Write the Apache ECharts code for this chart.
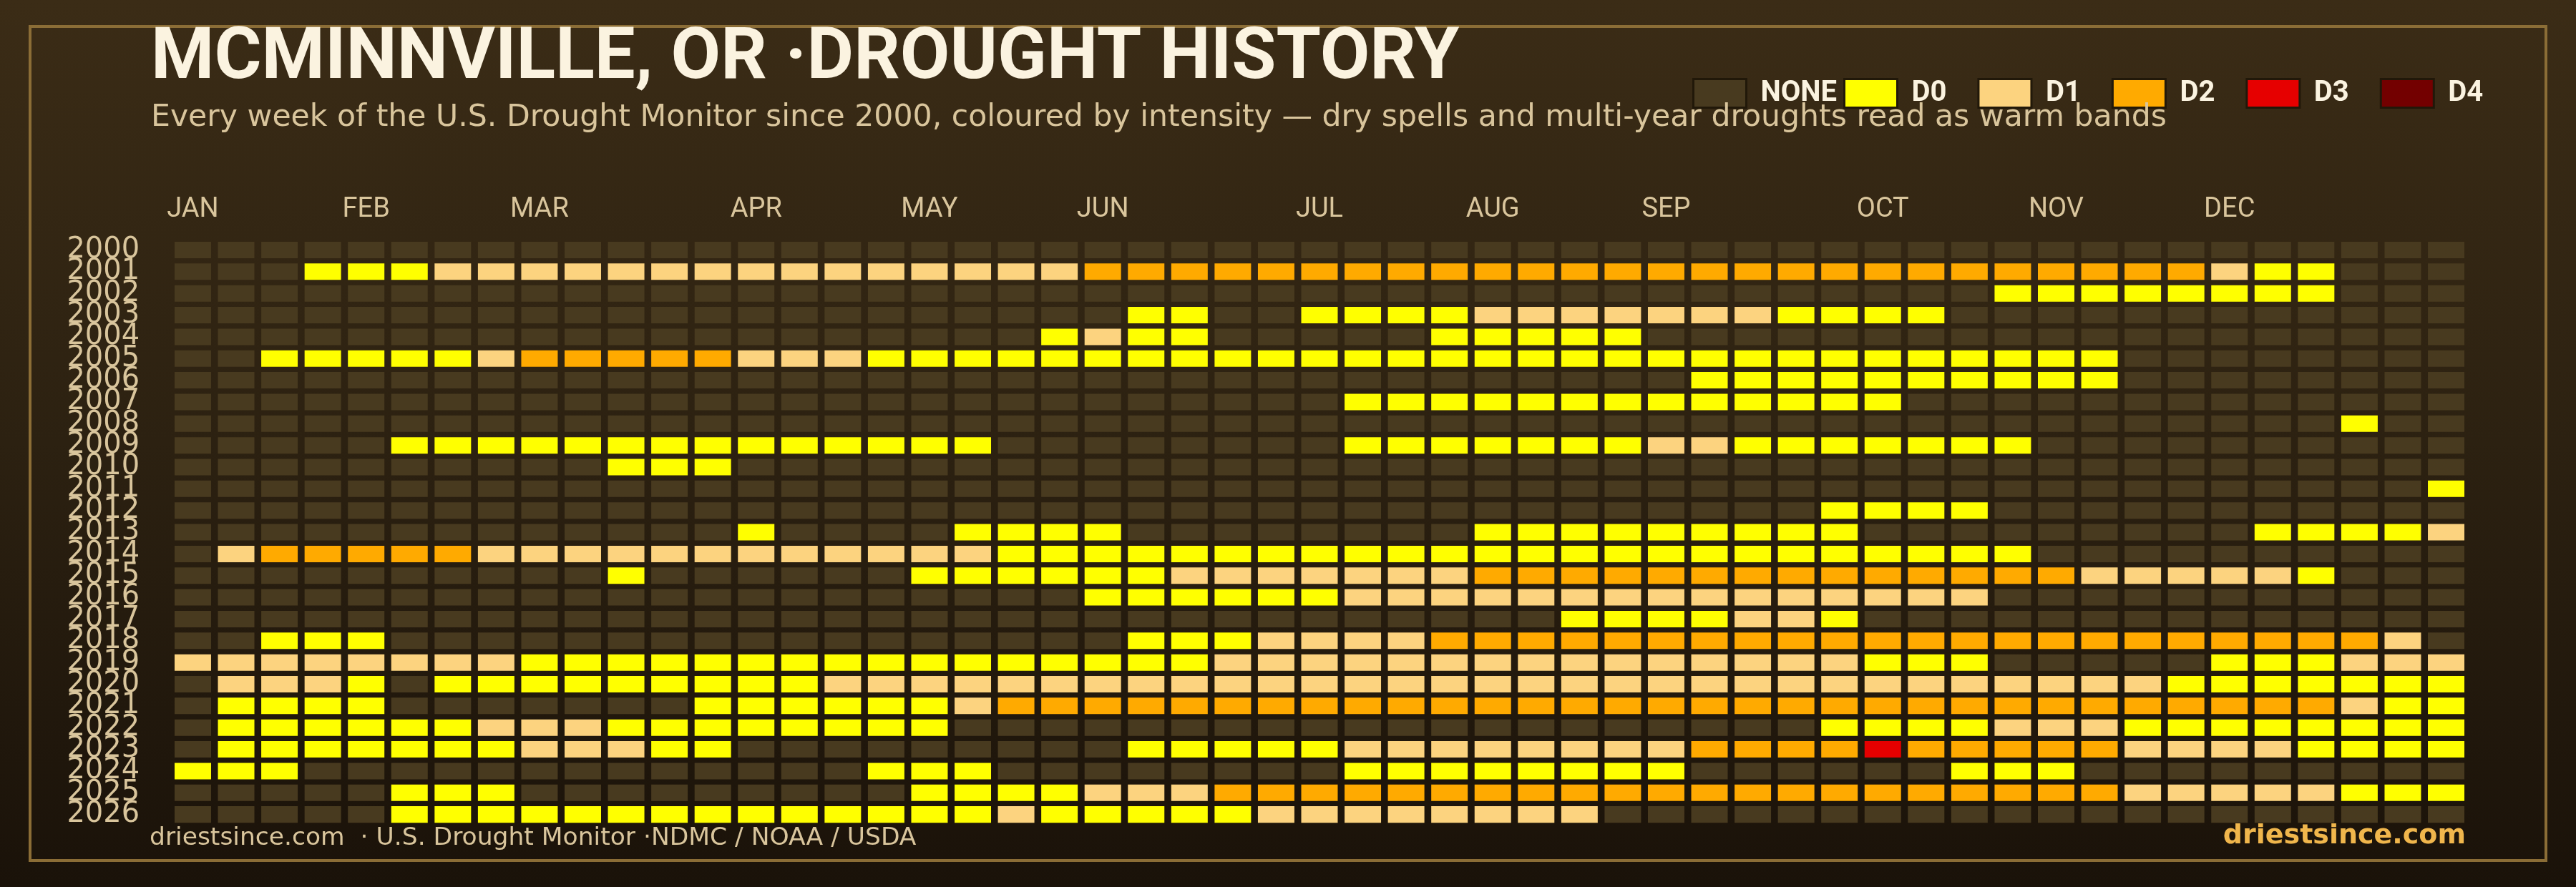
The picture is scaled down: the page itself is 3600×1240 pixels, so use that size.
<!DOCTYPE html>
<html><head><meta charset="utf-8">
<script src="https://cdn.jsdelivr.net/npm/echarts@6/dist/echarts.min.js"></script>
<style>html,body{margin:0;padding:0;background:#1b1309;} #c{width:3600px;height:1240px;}</style>
</head><body><div id="c"></div>
<script>
const years = [2000,2001,2002,2003,2004,2005,2006,2007,2008,2009,2010,2011,2012,2013,2014,2015,2016,2017,2018,2019,2020,2021,2022,2023,2024,2025,2026];
const weekNumbers = [1,2,3,4,5,6,7,8,9,10,11,12,13,14,15,16,17,18,19,20,21,22,23,24,25,26,27,28,29,30,31,32,33,34,35,36,37,38,39,40,41,42,43,44,45,46,47,48,49,50,51,52,53];
const monthLabels = ['JAN','FEB','MAR','APR','MAY','JUN','JUL','AUG','SEP','OCT','NOV','DEC'];
const monthStartWeek = [0,4,8,13,17,21,26,30,34,39,43,47];
const levelNames = ['NONE','D0','D1','D2','D3','D4'];
const levelColors = ['#483a1f','#ffff00','#fcd37f','#ffaa00','#e60000','#730000'];
// one string per year, one digit per week: 0 none, 1 D0, 2 D1, 3 D2, 4 D3, 5 D4
const weekLevels = [
 '0000000000 0000000000 0000000000 0000000000 0000000000 000',
 '0001112222 2222222222 2333333333 3333333333 3333333211 000',
 '0000000000 0000000000 0000000000 0000000000 0011111111 000',
 '0000000000 0000000000 0011001111 2222222111 1000000000 000',
 '0000000000 0000000000 1211000001 1111000000 0000000000 000',
 '0011111233 3332221111 1111111111 1111111111 1111100000 000',
 '0000000000 0000000000 0000000000 0000011111 1111100000 000',
 '0000000000 0000000000 0000000111 1111111111 0000000000 000',
 '0000000000 0000000000 0000000000 0000000000 0000000000 100',
 '0000011111 1111111110 0000000111 1111221111 1110000000 000',
 '0000000000 1110000000 0000000000 0000000000 0000000000 000',
 '0000000000 0000000000 0000000000 0000000000 0000000000 001',
 '0000000000 0000000000 0000000000 0000000011 1100000000 000',
 '0000000000 0001000011 1100000000 1111111110 0000000011 112',
 '0233333222 2222222221 1111111111 1111111111 1110000000 000',
 '0000000000 1000000111 1112222222 3333333333 3333222221 000',
 '0000000000 0000000000 0111111222 2222222222 2200000000 000',
 '0000000000 0000000000 0000000000 0011112210 0000000000 000',
 '0011100000 0000000000 0011122223 3333333333 3333333333 320',
 '2222222211 1111111111 1111222222 2222222221 1100000111 222',
 '0222101111 1111122222 2222222222 2222222222 2222221111 111',
 '0111100000 0011111123 3333333333 3333333333 3333333333 211',
 '0111111222 1111111100 0000000000 0000000011 1122211111 111',
 '0111111122 2110000000 0011111222 2222233334 3333322221 111',
 '1110000000 0000001110 0000000111 1111100000 0111000000 000',
 '0000011100 0000000111 1222333333 3333333333 3333322222 111',
 '0000011111 1111111112 1111122222 2220000000 0000000000 000'
];

const byLevel = levelNames.map(() => []);
weekLevels.forEach((row, yi) => {
  row.replace(/ /g, '').split('').forEach((ch, wi) => {
    byLevel[+ch].push([wi, yi]);
  });
});

function renderCell(params, api) {
  const c = api.coord([api.value(0), api.value(1)]);
  const s = api.size([1, 1]);
  const w = s[0] * 0.842, h = s[1] * 0.758;
  return { type: 'rect', shape: { x: c[0] - w / 2, y: c[1] - h / 2, width: w, height: h },
           style: { fill: api.visual('color') } };
}

const chart = echarts.init(document.getElementById('c'), null, { renderer: 'canvas' });
const legendText = { color: '#fbf3e0', fontSize: 40, fontWeight: 'bold', fontFamily: 'Roboto', padding: [0, 0, 0, 15] };
chart.setOption({
  animation: false,
  graphic: [
    { type: 'rect', z: -10, silent: true, shape: { x: 0, y: 0, width: 3600, height: 1240 },
      style: { fill: { type: 'linear', x: 0, y: 0, x2: 0, y2: 1, colorStops: [
        { offset: 0, color: '#3b2c16' }, { offset: 0.5, color: '#2c2111' }, { offset: 1, color: '#1a1209' } ] } } },
    { type: 'rect', z: 1, silent: true, shape: { x: 42, y: 37, width: 3516, height: 1166 },
      style: { fill: 'none', stroke: '#8b6d36', lineWidth: 4 } }
  ],
  title: [
    { text: 'MCMINNVILLE, OR ·DROUGHT HISTORY', left: 211, top: 33, padding: 0,
      textStyle: { fontFamily: 'Roboto', fontWeight: 'bold', fontSize: 101, color: '#fbf3e0' } },
    { text: 'Every week of the U.S. Drought Monitor since 2000, coloured by intensity — dry spells and multi-year droughts read as warm bands',
      left: 211, top: 143, padding: 0,
      textStyle: { fontFamily: 'DejaVu Sans', fontWeight: 'normal', fontSize: 42.6, color: '#d9c59c' } },
    { text: 'driestsince.com  · U.S. Drought Monitor ·NDMC / NOAA / USDA', left: 209, top: 1155, padding: 0,
      textStyle: { fontFamily: 'DejaVu Sans', fontWeight: 'normal', fontSize: 34.5, color: '#d9c59c' } },
    { text: 'driestsince.com', right: 154, top: 1150, padding: 0,
      textStyle: { fontFamily: 'DejaVu Sans', fontWeight: 'bold', fontSize: 38, color: '#f0b64c' } }
  ],
  legend: [
    { data: ['NONE'], left: 2360, top: 104, orient: 'horizontal', icon: 'rect', itemWidth: 74, itemHeight: 40,
      itemStyle: { borderColor: '#211809', borderWidth: 3 }, textStyle: legendText, selectedMode: false },
    { data: ['D0', 'D1', 'D2', 'D3', 'D4'], left: 2571, top: 104, orient: 'horizontal', icon: 'rect', itemWidth: 74, itemHeight: 40,
      itemGap: 43, itemStyle: { borderColor: '#211809', borderWidth: 3 },
      textStyle: Object.assign({}, legendText, { width: 55 }), selectedMode: false }
  ],
  grid: { left: 239.2, top: 334.3, width: 3209.6, height: 819.5, containLabel: false },
  xAxis: {
    type: 'category', position: 'top', data: weekNumbers,
    axisLine: { show: false }, axisTick: { show: false }, splitLine: { show: false },
    axisLabel: { interval: 0, margin: 22, color: '#d9c59c', fontFamily: 'Roboto', fontSize: 38,
      formatter: (v, i) => { const k = monthStartWeek.indexOf(i); return k >= 0 ? monthLabels[k] : ''; } }
  },
  yAxis: {
    type: 'category', inverse: true, data: years,
    axisLine: { show: false }, axisTick: { show: false }, splitLine: { show: false },
    axisLabel: { interval: 0, margin: 44, color: '#d9c59c', fontFamily: 'DejaVu Sans', fontSize: 40 }
  },
  series: levelNames.map((name, L) => ({
    type: 'custom', name: name, renderItem: renderCell, data: byLevel[L],
    encode: { x: 0, y: 1 }, itemStyle: { color: levelColors[L] }
  }))
});
</script></body></html>
